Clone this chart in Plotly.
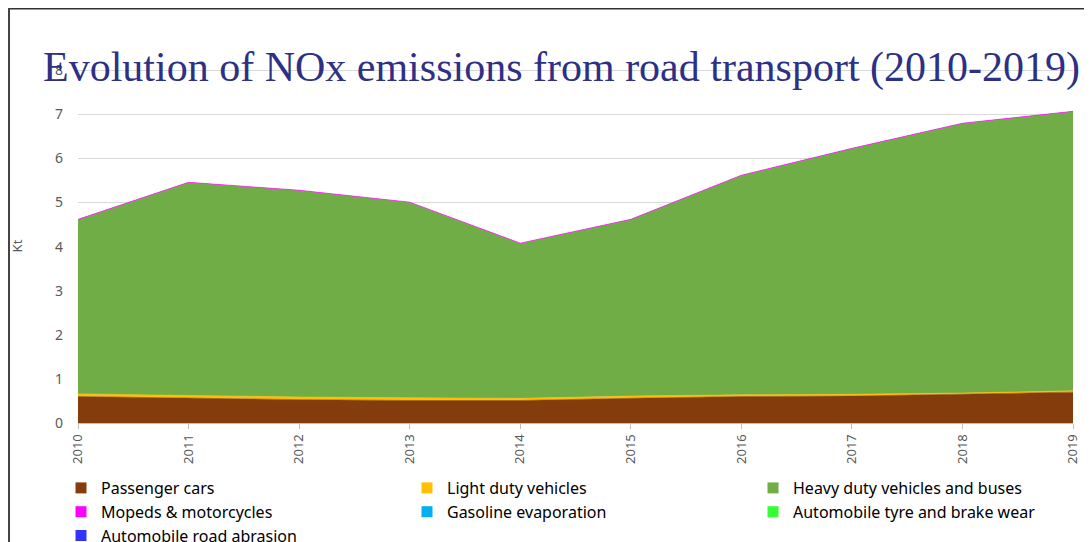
import plotly.graph_objects as go

years = ["2010", "2011", "2012", "2013", "2014", "2015", "2016", "2017", "2018", "2019"]
passenger_cars = [0.60, 0.56, 0.53, 0.51, 0.51, 0.56, 0.60, 0.61, 0.65, 0.70]
light_duty = [0.06, 0.06, 0.06, 0.06, 0.05, 0.05, 0.04, 0.04, 0.03, 0.03]
heavy_duty = [3.95, 4.83, 4.68, 4.43, 3.51, 4.00, 4.97, 5.57, 6.11, 6.33]
mopeds = [0.01, 0.01, 0.01, 0.01, 0.01, 0.01, 0.01, 0.01, 0.01, 0.01]
gasoline_evap = [0, 0, 0, 0, 0, 0, 0, 0, 0, 0]
tyre_brake = [0, 0, 0, 0, 0, 0, 0, 0, 0, 0]
road_abrasion = [0, 0, 0, 0, 0, 0, 0, 0, 0, 0]
y_ticks = [0, 1, 2, 3, 4, 5, 6, 7, 8]

series = [
    ("Passenger cars", passenger_cars, "#843C0C"),
    ("Light duty vehicles", light_duty, "#FFC000"),
    ("Heavy duty vehicles and buses", heavy_duty, "#70AD47"),
    ("Mopeds & motorcycles", mopeds, "#FF00FF"),
    ("Gasoline evaporation", gasoline_evap, "#00B0F0"),
    ("Automobile tyre and brake wear", tyre_brake, "#33FF33"),
    ("Automobile road abrasion", road_abrasion, "#3333FF"),
]

fig = go.Figure()
for name, vals, col in series:
    lw = 0.6 if any(v > 0 for v in vals) else 0
    fig.add_trace(go.Scatter(
        x=years, y=vals, name=name, mode="lines",
        stackgroup="one", fillcolor=col,
        line=dict(color=col, width=lw),
        showlegend=False, hoverinfo="x+y+name",
    ))
# legend entries with square swatches
for name, vals, col in series:
    fig.add_trace(go.Scatter(
        x=[None], y=[None], name=name, mode="markers",
        marker=dict(symbol="square", size=11, color=col),
        showlegend=True,
    ))

grey = "#595959"
# page body has an 8px margin, so figure coords = screen coords - 8
W, H = 1084, 534
PL, PT, PW, PH = 70, 61, 995, 354
PR = W - PL - PW
PB = H - PT - PH


def px_x(sx):
    return (sx - 8 - PL) / PW


def px_y(sy):
    return (H - PB - (sy - 8)) / PH


fig.update_layout(
    width=W, height=H,
    paper_bgcolor="white", plot_bgcolor="white",
    margin=dict(l=PL, r=PR, t=PT, b=PB, autoexpand=False),
    showlegend=True,
    legend=dict(
        orientation="h", x=px_x(61), y=px_y(471), xanchor="left", yanchor="top",
        entrywidth=301, entrywidthmode="pixels",
        font=dict(family="Noto Sans", size=16, color="#000000"),
        traceorder="normal", itemwidth=30, tracegroupgap=0,
        bgcolor="rgba(0,0,0,0)",
    ),
    font=dict(family="Noto Sans", color=grey),
    xaxis=dict(
        type="category", range=[0, 9], showgrid=False,
        tickangle=-90, ticks="outside", ticklen=5, tickcolor="#BFBFBF",
        tickfont=dict(size=13, color=grey),
        showline=True, linecolor="#BFBFBF", linewidth=1,
        zeroline=False, fixedrange=True, automargin=False,
    ),
    yaxis=dict(
        range=[0, 8.03], tickvals=y_ticks,
        showgrid=True, gridcolor="#D9D9D9",
        tickfont=dict(size=14, color=grey), zeroline=False, automargin=False,
        ticklabelstandoff=14,
        title=dict(text="Kt", font=dict(size=13, color=grey), standoff=29),
    ),
    title=dict(
        text="Evolution of NOx emissions from road transport (2010-2019)",
        x=(43 - 8) / W, xanchor="left", xref="container",
        y=1 - 58 / H, yanchor="middle", yref="container",
        font=dict(family="Liberation Serif", size=42, color="#2E3085"),
    ),
    shapes=[
        dict(type="line", xref="paper", yref="paper", x0=px_x(8), x1=px_x(1100),
             y0=px_y(8.8), y1=px_y(8.8), line=dict(color="#333333", width=1.5)),
        dict(type="line", xref="paper", yref="paper", x0=px_x(9), x1=px_x(9),
             y0=px_y(8), y1=px_y(560), line=dict(color="#444444", width=2)),
    ],
)

fig.write_html("out.html")
